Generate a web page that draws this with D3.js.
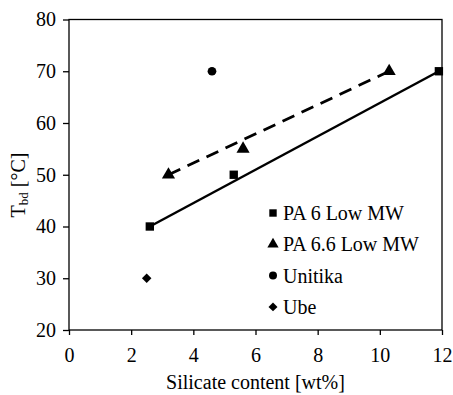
<!DOCTYPE html>
<html><head><meta charset="utf-8">
<script src="https://cdn.jsdelivr.net/npm/d3@7"></script>
<style>body{margin:0;background:#fff}svg text{font-family:'Liberation Serif','Times New Roman','DejaVu Serif',serif !important;fill:#000}</style>
</head><body><svg id="c" width="453" height="395"></svg>
<script>
const xTicks=[0,2,4,6,8,10,12];
const yTicks=[20,30,40,50,60,70,80];
const pa6=[{x:2.6,y:40},{x:5.3,y:50},{x:11.9,y:70}];
const pa66=[{x:3.2,y:50},{x:5.6,y:55},{x:10.3,y:70}];
const unitika=[{x:4.6,y:70}];
const ube=[{x:2.5,y:30}];
const pa6Fit=[{x:2.6,y:40},{x:11.9,y:70}];
const pa66Fit=[{x:3.2,y:50},{x:10.3,y:70}];
const legendLabels=["PA 6 Low MW","PA 6.6 Low MW","Unitika","Ube"];

const svg=d3.select("#c");
const L=69,R=442,T=19.5,B=330;
const x=d3.scaleLinear().domain([0,12]).range([L,R]);
const y=d3.scaleLinear().domain([20,80]).range([B,T]);

svg.append("rect").attr("x",L).attr("y",T).attr("width",R-L).attr("height",B-T).attr("fill","none").attr("stroke","#000").attr("stroke-width",1.3);

const fs=20;
const gx=svg.append("g").attr("transform",`translate(0,${B})`).call(d3.axisBottom(x).tickValues(xTicks).tickSize(5).tickPadding(13));
const gy=svg.append("g").attr("transform",`translate(${L},0)`).call(d3.axisLeft(y).tickValues(yTicks).tickSize(6).tickPadding(7));
[gx,gy].forEach(g=>{g.attr("font-family",null).attr("font-size",null);g.select(".domain").remove();g.selectAll("line").attr("stroke","#000").attr("stroke-width",1.3);g.selectAll("text").attr("font-size",fs);});

const line=d3.line().x(d=>x(d.x)).y(d=>y(d.y));
svg.append("path").datum(pa6Fit).attr("d",line).attr("fill","none").attr("stroke","#000").attr("stroke-width",2.5);
svg.append("path").datum(pa66Fit).attr("d",line).attr("fill","none").attr("stroke","#000").attr("stroke-width",2.8)
 .attr("stroke-dasharray","13,8");

const sq=d3.symbol().type(d3.symbolSquare);
const sym={sq:sq.size(70)(),tri:d3.symbol().type(d3.symbolTriangle).size(75)(),
 cir:d3.symbol().type(d3.symbolCircle).size(60)(),dia:d3.symbol().type(d3.symbolSquare).size(45)()};
function pts(data,s,rot){svg.append("g").selectAll("path").data(data).join("path").attr("d",s)
 .attr("transform",d=>`translate(${x(d.x)},${y(d.y)})`+(rot?" rotate(45)":"")).attr("fill","#000");}
pts(pa6,sym.sq);pts(pa66,sym.tri);pts(unitika,sym.cir);pts(ube,sym.dia,true);

const legSyms=[d3.symbol().type(d3.symbolSquare).size(55)(),d3.symbol().type(d3.symbolTriangle).size(55)(),d3.symbol().type(d3.symbolCircle).size(50)(),d3.symbol().type(d3.symbolSquare).size(40)()];
const lg=svg.append("g");
legendLabels.forEach((t,i)=>{
 const yy=213+i*31.3;
 lg.append("path").attr("d",legSyms[i]).attr("transform",`translate(273,${yy})`+(i===3?" rotate(45)":"")).attr("fill","#000");
 lg.append("text").attr("x",283).attr("y",yy+7).attr("font-size",fs).text(t);
});

svg.append("text").attr("x",(L+R)/2+0).attr("y",389).attr("text-anchor","middle").attr("font-size",fs).text("Silicate content [wt%]");
const yl=svg.append("text").attr("transform","translate(25,185) rotate(-90)").attr("text-anchor","middle").attr("font-size",fs);
yl.append("tspan").text("T");
yl.append("tspan").attr("font-size",13).attr("dy",3).text("bd");
yl.append("tspan").attr("dy",-3).text(" [°C]");
</script></body></html>
